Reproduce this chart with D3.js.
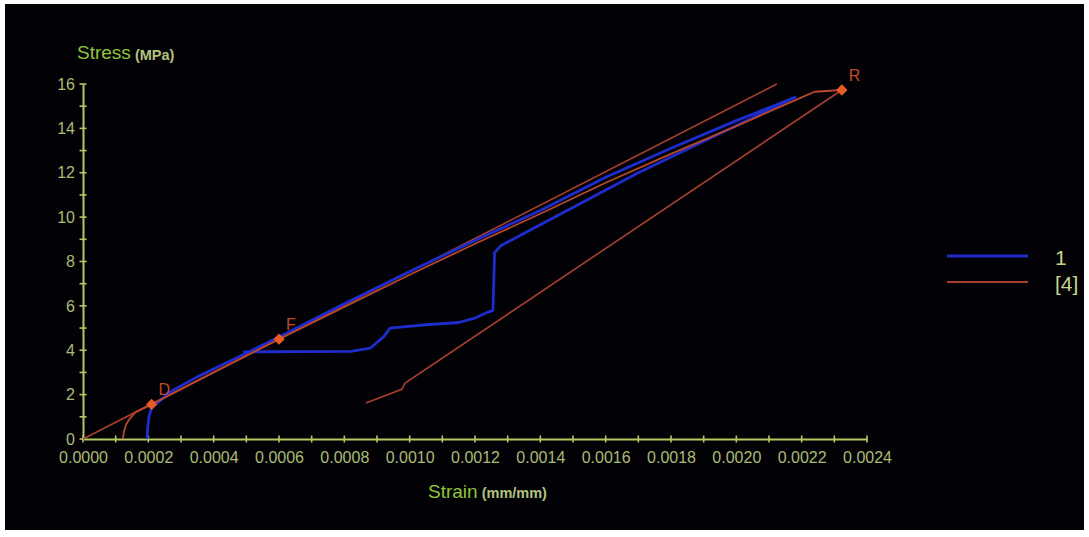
<!DOCTYPE html>
<html>
<head>
<meta charset="utf-8">
<script src="https://cdn.jsdelivr.net/npm/d3@7"></script>
<style>
  html, body { margin: 0; padding: 0; background: #ffffff; }
  svg { display: block; }
  text { font-family: "Liberation Sans", Arial, sans-serif; }
</style>
</head>
<body>
<svg id="chart" width="1089" height="537"></svg>
<script>
// ---------- data ----------
const xTickValues = [0, 0.0002, 0.0004, 0.0006, 0.0008, 0.0010, 0.0012, 0.0014, 0.0016, 0.0018, 0.0020, 0.0022, 0.0024];
const xMinorTicks = [0.0001, 0.0003, 0.0005, 0.0007, 0.0009, 0.0011, 0.0013, 0.0015, 0.0017, 0.0019, 0.0021, 0.0023];
const yTickValues = [0, 2, 4, 6, 8, 10, 12, 14, 16];
const yMinorTicks = [1, 3, 5, 7, 9, 11, 13, 15];

// Series "1" (blue): loading up the line, back along the lower path
const blueStrain = [0.000196, 0.000198, 0.000202, 0.00021, 0.00027, 0.00035, 0.00042, 0.00049,
  0.0006, 0.0008, 0.0010, 0.0012, 0.0014, 0.0016, 0.0018, 0.0020, 0.00218,
  0.0017, 0.00128, 0.00126, 0.001255, 0.00124, 0.0012, 0.00115, 0.00105, 0.00098,
  0.00094, 0.00092, 0.00088, 0.00082, 0.00049];
const blueStress = [0, 0.5, 1.0, 1.4, 2.15, 2.8, 3.3, 3.8,
  4.6, 6.1, 7.55, 8.95, 10.3, 11.8, 13.1, 14.35, 15.4,
  12.0, 8.72, 8.4, 5.8, 5.72, 5.45, 5.25, 5.15, 5.05,
  5.0, 4.6, 4.1, 3.95, 3.93];

// Series "[4]" (red): fitted curve
const redStrain = [0.000122, 0.000125, 0.000132, 0.000142, 0.00016, 0.00021, 0.0004, 0.0006,
  0.0008, 0.0010, 0.0012, 0.0014, 0.0016, 0.0018, 0.0020, 0.0022, 0.00224, 0.002323];
const redStress = [0, 0.3, 0.65, 0.9, 1.2, 1.56, 3.0, 4.5,
  5.95, 7.4, 8.8, 10.15, 11.55, 12.85, 14.1, 15.4, 15.65, 15.73];

// Series "[4]": tangent (modulus) line
const tangentStrain = [0, 0.002124];
const tangentStress = [0, 16.0];

// Series "[4]": offset line to the rupture point
const offsetStrain = [0.000866, 0.000976, 0.000986, 0.002323];
const offsetStress = [1.62, 2.24, 2.52, 15.73];

// Marked points
const pointNames = ["D", "F", "R"];
const pointStrain = [0.00021, 0.0006, 0.002323];
const pointStress = [1.56, 4.5, 15.73];

const legendNames = ["1", "[4]"];

// ---------- drawing ----------
const svg = d3.select("#chart");
svg.append("rect").attr("x", 5).attr("y", 4).attr("width", 1079).attr("height", 526).attr("fill", "#020206");

const x = d3.scaleLinear().domain([0, 0.0024]).range([83, 867]);
const y = d3.scaleLinear().domain([0, 16]).range([439, 84]);

const axisColor = "#b4c862";
const tickTextColor = "#aabb72";

// x axis
const gx = svg.append("g").attr("transform", "translate(0,439)");
gx.call(d3.axisBottom(x).tickValues(xTickValues).tickSizeOuter(0).tickSize(0).tickPadding(16)
  .tickFormat(d3.format(".4f")));
gx.select(".domain").attr("stroke", axisColor).attr("stroke-width", 2);
gx.selectAll(".tick text").attr("fill", tickTextColor).attr("font-size", 16).attr("dy", "0.5em");
gx.selectAll(".tick line").remove();
gx.selectAll(".tk").data(xTickValues.concat(xMinorTicks)).join("line")
  .attr("x1", d => x(d)).attr("x2", d => x(d)).attr("y1", -3.5).attr("y2", 3.5)
  .attr("stroke", axisColor).attr("stroke-width", 1.6);

// y axis
const gy = svg.append("g").attr("transform", "translate(83,0)");
gy.call(d3.axisLeft(y).tickValues(yTickValues).tickSize(0).tickPadding(8));
gy.select(".domain").attr("stroke", axisColor).attr("stroke-width", 2);
gy.selectAll(".tick text").attr("fill", tickTextColor).attr("font-size", 16);
gy.selectAll(".tick line").remove();
gy.selectAll(".tk").data(yTickValues.concat(yMinorTicks)).join("line")
  .attr("x1", -3.5).attr("x2", 3.5).attr("y1", d => y(d)).attr("y2", d => y(d))
  .attr("stroke", axisColor).attr("stroke-width", 1.6);

// axis titles
const yt = svg.append("text").attr("x", 77).attr("y", 59);
yt.append("tspan").text("Stress").attr("fill", "#8ec43a").attr("font-size", 19);
yt.append("tspan").text(" (MPa)").attr("fill", "#b2c27e").attr("font-size", 14.5).attr("font-weight", "bold").attr("dy", 1);

const xt = svg.append("text").attr("x", 428).attr("y", 498);
xt.append("tspan").text("Strain").attr("fill", "#8ec43a").attr("font-size", 19);
xt.append("tspan").text(" (mm/mm)").attr("fill", "#b2c27e").attr("font-size", 14.5).attr("font-weight", "bold");

const line = d3.line().x(d => x(d[0])).y(d => y(d[1]));
const zip = (a, b) => a.map((v, i) => [v, b[i]]);

const blue = "#1e2ccc";
const red = "#a8402e";

// red series
[[tangentStrain, tangentStress], [offsetStrain, offsetStress]].forEach(([s, t]) => {
  svg.append("path").attr("d", line(zip(s, t))).attr("fill", "none")
    .attr("stroke", red).attr("stroke-width", 1.6);
});

// blue series
svg.append("path").attr("d", line(zip(blueStrain, blueStress))).attr("fill", "none")
  .attr("stroke", blue).attr("stroke-width", 2.8).attr("stroke-linejoin", "round");

// red curve on top
svg.append("path").attr("d", line(zip(redStrain, redStress))).attr("fill", "none")
  .attr("stroke", "#b8482c").attr("stroke-width", 1.8).attr("stroke-linejoin", "round");

// markers
const pts = pointNames.map((n, i) => ({ n, sx: pointStrain[i], sy: pointStress[i] }));
svg.selectAll(".mk").data(pts).join("path")
  .attr("d", d3.symbol().type(d3.symbolSquare).size(64))
  .attr("transform", d => `translate(${x(d.sx)},${y(d.sy)}) rotate(45)`)
  .attr("fill", "#e85a26");
svg.selectAll(".ml").data(pts).join("text")
  .attr("x", d => x(d.sx) + 7).attr("y", d => y(d.sy) - 9)
  .attr("fill", "#c24a2c").attr("font-size", 16).text(d => d.n);

// legend
const legColors = [blue, red];
legendNames.forEach((name, i) => {
  const ly = 256 + i * 26;
  svg.append("line").attr("x1", 947).attr("x2", 1028).attr("y1", ly).attr("y2", ly)
    .attr("stroke", legColors[i]).attr("stroke-width", i === 0 ? 3 : 2.2);
  svg.append("text").attr("x", 1055).attr("y", ly + 9).attr("fill", "#c4d48c")
    .attr("font-size", 21).text(name);
});
</script>
</body>
</html>
